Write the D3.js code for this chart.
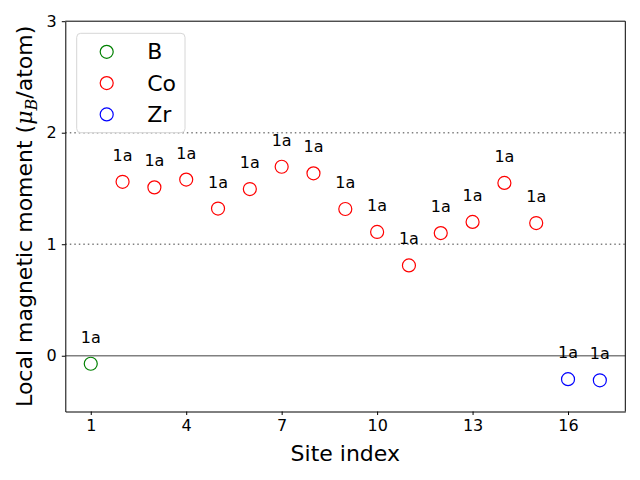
<!DOCTYPE html>
<html>
<head>
<meta charset="utf-8">
<script src="https://cdn.jsdelivr.net/npm/d3@7"></script>
<style>
  body { margin: 0; background: #fff; }
  svg { font-family: 'DejaVu Sans', sans-serif; }
</style>
</head>
<body>
<div id="chart"></div>
<script>
// site data
const bSites = [1]
const bValues = [-0.072]
const coSites = [2, 3, 4, 5, 6, 7, 8, 9, 10, 11, 12, 13, 14, 15]
const coValues = [1.56, 1.51, 1.58, 1.32, 1.495, 1.695, 1.636, 1.316, 1.11, 0.81, 1.10, 1.20, 1.55, 1.19]
const zrSites = [16, 17]
const zrValues = [-0.21, -0.22]
const siteLabels = ['1a', '1a', '1a', '1a', '1a', '1a', '1a', '1a', '1a', '1a', '1a', '1a', '1a', '1a', '1a', '1a', '1a']
const xTicks = [1, 4, 7, 10, 13, 16]
const yTicks = [0, 1, 2, 3]
const legendNames = ['B', 'Co', 'Zr']
const legendColors = ['green', 'red', 'blue']

const margin = { top: 21.2, right: 14.7, bottom: 68.5, left: 65.3 }
const width = 640 - margin.left - margin.right
const height = 480 - margin.top - margin.bottom

const svg = d3.select('#chart')
  .append('svg')
  .attr('width', 640)
  .attr('height', 480)
  .append('g')
  .attr('transform', `translate(${margin.left}, ${margin.top})`)

const x = d3.scaleLinear().domain([0.2, 17.8]).range([0, width])
const y = d3.scaleLinear().domain([-0.5, 3]).range([height, 0])

// reference lines
svg.selectAll('.hdot')
  .data([1, 2])
  .join('line')
  .attr('x1', 0)
  .attr('x2', width)
  .attr('y1', d => y(d))
  .attr('y2', d => y(d))
  .style('stroke', '#808080')
  .style('stroke-width', 1.5)
  .style('stroke-dasharray', '1.5,3')

svg.append('line')
  .attr('x1', 0)
  .attr('x2', width)
  .attr('y1', y(0))
  .attr('y2', y(0))
  .style('stroke', '#808080')
  .style('stroke-width', 1.5)

// axes
const xAxis = svg.append('g')
  .attr('transform', `translate(0, ${height})`)
  .call(d3.axisBottom(x).tickValues(xTicks).tickFormat(d3.format('d')).tickSize(3.5).tickSizeOuter(0).tickPadding(5))
const yAxis = svg.append('g')
  .call(d3.axisLeft(y).tickValues(yTicks).tickFormat(d3.format('d')).tickSize(3.5).tickSizeOuter(0).tickPadding(5))
svg.append('line').attr('x1', width).attr('x2', width).attr('y1', 0).attr('y2', height).style('stroke', 'black')
svg.append('line').attr('x1', 0).attr('x2', width).attr('y1', 0).attr('y2', 0).style('stroke', 'black')
;[xAxis, yAxis].forEach(a => {
  a.selectAll('text').style('font-size', '16px').style('font-family', 'DejaVu Sans').attr('fill', 'black')
  a.selectAll('line, path').style('stroke', 'black').style('stroke-width', 1)
})

// points
const groups = [
  { sites: bSites, values: bValues, color: legendColors[0] },
  { sites: coSites, values: coValues, color: legendColors[1] },
  { sites: zrSites, values: zrValues, color: legendColors[2] }
]
groups.forEach(g => {
  const pts = g.sites.map((s, i) => ({ s: s, v: g.values[i] }))
  svg.append('g')
    .selectAll('circle')
    .data(pts)
    .join('circle')
    .attr('cx', d => x(d.s))
    .attr('cy', d => y(d.v))
    .attr('r', 6.5)
    .style('fill', 'none')
    .style('stroke', g.color)
    .style('stroke-width', 1.2)
  svg.append('g')
    .selectAll('text')
    .data(pts)
    .join('text')
    .attr('x', d => x(d.s))
    .attr('y', d => y(d.v) - 21)
    .attr('text-anchor', 'middle')
    .style('font-size', '16px')
    .text(d => siteLabels[d.s - 1])
})

// axis labels
svg.append('text')
  .attr('x', width / 2)
  .attr('y', height + 50)
  .attr('text-anchor', 'middle')
  .style('font-size', '22px')
  .text('Site index')

const ylab = svg.append('text')
  .attr('transform', `translate(-33, ${height / 2}) rotate(-90)`)
  .attr('text-anchor', 'middle')
  .style('font-size', '22px')
ylab.append('tspan').text('Local magnetic moment (')
ylab.append('tspan').style('font-family', 'DejaVu Serif').style('font-style', 'italic').text('μ')
ylab.append('tspan').style('font-family', 'DejaVu Serif').style('font-style', 'italic').style('font-size', '16px').attr('dy', 5).text('B')
ylab.append('tspan').attr('dy', -5).text('/atom)')

// legend
const legend = svg.append('g').attr('transform', 'translate(11.4, 12.1)')
legend.append('rect')
  .attr('width', 108.3)
  .attr('height', 99.4)
  .attr('rx', 4)
  .style('fill', 'white')
  .style('fill-opacity', 0.8)
  .style('stroke', '#d6d6d6')
legendNames.forEach((name, i) => {
  legend.append('circle')
    .attr('cx', 30)
    .attr('cy', 18.5 + i * 31.3)
    .attr('r', 6.5)
    .style('fill', 'none')
    .style('stroke', legendColors[i])
    .style('stroke-width', 1.2)
  legend.append('text')
    .attr('x', 70.5)
    .attr('y', 18.5 + i * 31.3 + 7.5)
    .style('font-size', '22px')
    .text(name)
})
</script>
</body>
</html>
